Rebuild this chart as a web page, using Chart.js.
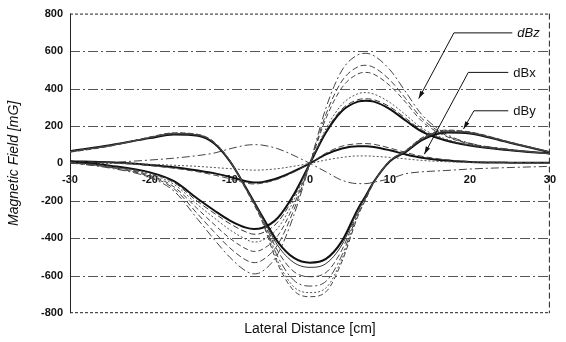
<!DOCTYPE html>
<html>
<head>
<meta charset="utf-8">
<script src="https://cdn.jsdelivr.net/npm/chart.js@4.4.1/dist/chart.umd.min.js"></script>
<style>
  html, body { margin: 0; padding: 0; background: #fff; }
  #wrap { width: 566px; height: 342px; }
</style>
</head>
<body>
<div id="wrap"><canvas id="fieldChart"></canvas></div>
<script>
// posiciones laterales (cm) donde se leyeron los valores
const X = [-30, -25, -20, -17, -14, -12, -10, -8, -7, -6, -4, -2, 0, 2, 4, 6, 7, 8, 10, 12, 14, 17, 20, 25, 30];

// dBz: antisimetrica, minimo en -7, maximo en +7 (mG)
const dBz1 = [10, -12, -48, -95, -190, -250, -305, -343, -350, -345, -290, -165, 0, 165, 280, 330, 335, 330, 290, 228, 170, 122, 95, 70, 52];
const dBz2 = [8, -15, -52, -102, -205, -265, -322, -366, -378, -372, -312, -178, 0, 172, 290, 340, 345, 340, 302, 240, 178, 126, 97, 71, 52];
const dBz3 = [6, -18, -58, -112, -222, -290, -355, -405, -420, -412, -345, -196, 0, 185, 315, 372, 378, 370, 325, 258, 188, 130, 99, 72, 52];
const dBz4 = [5, -20, -64, -125, -245, -325, -400, -456, -470, -460, -385, -220, 0, 240, 405, 478, 486, 476, 415, 325, 225, 145, 104, 73, 52];
const dBz5 = [4, -22, -70, -135, -272, -365, -452, -516, -530, -518, -432, -246, 0, 262, 440, 516, 524, 512, 445, 345, 240, 150, 106, 74, 52];
const dBz6 = [3, -25, -76, -148, -300, -405, -502, -575, -590, -578, -482, -275, 0, 296, 497, 580, 588, 575, 500, 380, 260, 158, 108, 75, 52];

// dBy: par, minimo en 0, lobulos laterales en +-17
const dBy1 = [65, 97, 135, 155, 148, 108, 11, -130, -205, -280, -420, -505, -530, -510, -415, -243, -172, -97, 12, 62, 124, 165, 160, 110, 60];
const dBy2 = [64, 96, 137, 157, 150, 110, 12, -132, -207, -285, -440, -530, -555, -535, -435, -250, -176, -98, 13, 64, 128, 168, 162, 111, 60];
const dBy3 = [63, 95, 138, 159, 152, 112, 13, -134, -210, -290, -470, -578, -605, -583, -462, -258, -180, -99, 13, 66, 131, 171, 164, 112, 60];
const dBy4 = [62, 94, 139, 161, 153, 113, 13, -136, -213, -296, -500, -625, -655, -630, -490, -268, -184, -100, 14, 68, 134, 174, 166, 113, 61];
const dBy5 = [61, 93, 140, 162, 154, 114, 14, -138, -216, -302, -525, -660, -690, -665, -510, -276, -188, -101, 14, 69, 136, 176, 167, 113, 61];
const dBy6 = [60, 92, 141, 163, 155, 115, 14, -140, -220, -308, -540, -680, -712, -686, -525, -282, -190, -102, 15, 70, 137, 178, 168, 114, 61];

// dBx: pequena, antisimetrica
const dBx1 = [12, 6, -8, -20, -38, -52, -72, -95, -102, -100, -78, -42, 0, 48, 80, 92, 92, 88, 70, 48, 30, 15, 8, 4, 3];
const dBx2 = [10, 4, -12, -26, -45, -62, -82, -105, -110, -106, -84, -46, 0, 55, 92, 105, 106, 102, 82, 58, 38, 20, 10, 5, 3];
const dBx3 = [2, 0, -5, -10, -16, -22, -28, -34, -36, -35, -28, -15, 0, 18, 32, 40, 40, 38, 32, 24, 16, 9, 5, 2, 0];
const dBx4 = [0, 5, 18, 28, 42, 55, 78, 97, 100, 98, 78, 42, 0, -45, -90, -108, -108, -100, -82, -55, -45, -38, -30, -22, -16];

// estilos de linea
const curves = [
  { data: dBy6, w: 1, dash: [5, 3], color: '#444' },
  { data: dBy5, w: 1, dash: [2, 2], color: '#555' },
  { data: dBy4, w: 1, dash: [8, 3, 2, 3], color: '#444' },
  { data: dBy3, w: 1, dash: [6, 3], color: '#444' },
  { data: dBy2, w: 1, dash: [], color: '#333' },
  { data: dBy1, w: 2, dash: [], color: '#111' },
  { data: dBz6, w: 1, dash: [8, 3, 2, 3], color: '#444' },
  { data: dBz5, w: 1, dash: [6, 3], color: '#444' },
  { data: dBz4, w: 1, dash: [5, 3], color: '#444' },
  { data: dBz3, w: 1, dash: [2, 2], color: '#555' },
  { data: dBz2, w: 1, dash: [6, 3], color: '#333' },
  { data: dBz1, w: 2, dash: [], color: '#111' },
  { data: dBx4, w: 1, dash: [8, 3, 2, 3], color: '#444' },
  { data: dBx3, w: 1, dash: [2, 2], color: '#555' },
  { data: dBx2, w: 1, dash: [6, 3], color: '#444' },
  { data: dBx1, w: 2, dash: [], color: '#111' }
];

const datasets = curves.map(c => ({
  data: X.map((x, i) => ({ x: x, y: c.data[i] })),
  borderColor: c.color,
  borderWidth: c.w,
  borderDash: c.dash,
  pointRadius: 0,
  fill: false,
  cubicInterpolationMode: 'monotone'
}));

// marco y rejilla punteada
const framePlugin = {
  id: 'frame',
  beforeDatasetsDraw(chart) {
    const { ctx, chartArea: a, scales } = chart;
    ctx.save();
    ctx.strokeStyle = '#555';
    ctx.lineWidth = 1;
    ctx.setLineDash([10, 3, 2, 3]);
    [600, 400, 200, -200, -400, -600].forEach(v => {
      const py = Math.round(scales.y.getPixelForValue(v)) + 0.5;
      ctx.beginPath(); ctx.moveTo(a.left, py); ctx.lineTo(a.right, py); ctx.stroke();
    });
    ctx.strokeStyle = '#222';
    ctx.setLineDash([3, 2]);
    ctx.beginPath();
    ctx.moveTo(a.left, a.top + 0.5); ctx.lineTo(a.right, a.top + 0.5);
    ctx.moveTo(a.left, a.bottom - 0.5); ctx.lineTo(a.right, a.bottom - 0.5);
    ctx.stroke();
    ctx.setLineDash([6, 3]);
    ctx.beginPath(); ctx.moveTo(a.right - 0.5, a.top); ctx.lineTo(a.right - 0.5, a.bottom); ctx.stroke();
    ctx.setLineDash([]);
    ctx.beginPath(); ctx.moveTo(a.left + 0.5, a.top); ctx.lineTo(a.left + 0.5, a.bottom); ctx.stroke();
    ctx.restore();
  }
};

// etiquetas dBz / dBx / dBy con flechas
const calloutPlugin = {
  id: 'callouts',
  afterDatasetsDraw(chart) {
    const { ctx, scales } = chart;
    const px = v => scales.x.getPixelForValue(v);
    const py = v => scales.y.getPixelForValue(v);
    const items = [
      { text: 'dBz', italic: true, tip: [13.6, 346], knee: [18.0, 697], end: [25.3, 697] },
      { text: 'dBx', italic: false, tip: [14.3, 49], knee: [19.8, 486], end: [24.8, 486] },
      { text: 'dBy', italic: false, tip: [19.2, 184], knee: [20.5, 281], end: [24.8, 281] }
    ];
    ctx.save();
    ctx.strokeStyle = '#111';
    ctx.fillStyle = '#111';
    ctx.lineWidth = 1;
    items.forEach(it => {
      const tx = px(it.tip[0]), ty = py(it.tip[1]);
      const kx = px(it.knee[0]), ky = py(it.knee[1]);
      const ex = px(it.end[0]), ey = py(it.end[1]);
      ctx.beginPath();
      ctx.moveTo(ex, ey); ctx.lineTo(kx, ky); ctx.lineTo(tx, ty);
      ctx.stroke();
      const ang = Math.atan2(ty - ky, tx - kx);
      ctx.beginPath();
      ctx.moveTo(tx, ty);
      ctx.lineTo(tx - 8 * Math.cos(ang - 0.3), ty - 8 * Math.sin(ang - 0.3));
      ctx.lineTo(tx - 8 * Math.cos(ang + 0.3), ty - 8 * Math.sin(ang + 0.3));
      ctx.closePath();
      ctx.fill();
      ctx.font = (it.italic ? 'italic ' : '') + '13px "Liberation Sans", Arial, sans-serif';
      ctx.textBaseline = 'middle';
      ctx.textAlign = 'left';
      ctx.fillText(it.text, ex + 5, ey + 1);
    });
    ctx.restore();
  }
};

const ctx = document.getElementById('fieldChart').getContext('2d');
const fieldChart = new Chart(ctx, {
  type: 'line',
  data: { datasets: datasets },
  plugins: [framePlugin, calloutPlugin],
  options: {
    responsive: true,
    maintainAspectRatio: false,
    animation: false,
    devicePixelRatio: 1,
    layout: { padding: { left: 0, right: 11, top: 13, bottom: 0 } },
    plugins: { legend: { display: false }, tooltip: { enabled: false } },
    scales: {
      x: {
        type: 'linear',
        axis: 'x',
        position: { y: 0 },
        min: -30, max: 30,
        ticks: { stepSize: 10, padding: 10, color: '#111', font: { family: '"Liberation Sans", Arial, sans-serif', size: 11, weight: 'bold' } },
        grid: { display: false, drawTicks: false },
        border: { display: false }
      },
      xb: {
        type: 'linear',
        axis: 'x',
        position: 'bottom',
        min: -30, max: 30,
        ticks: { display: false },
        grid: { display: false, drawTicks: false },
        border: { display: false },
        title: {
          display: true,
          text: 'Lateral Distance [cm]',
          color: '#111',
          font: { family: '"Liberation Sans", Arial, sans-serif', size: 14 },
          padding: { top: 8, bottom: 4 }
        }
      },
      y: {
        type: 'linear',
        min: -800, max: 800,
        ticks: { stepSize: 200, padding: 7, color: '#111', font: { family: '"Liberation Sans", Arial, sans-serif', size: 11, weight: 'bold' } },
        grid: { display: false, drawTicks: false },
        border: { display: false },
        title: {
          display: true,
          text: 'Magnetic Field [mG]',
          color: '#111',
          font: { family: '"Liberation Sans", Arial, sans-serif', size: 14, style: 'italic' },
          padding: { top: 6, bottom: 0 }
        },
        afterFit(scale) { scale.width = 70; }
      }
    }
  }
});
</script>
</body>
</html>
